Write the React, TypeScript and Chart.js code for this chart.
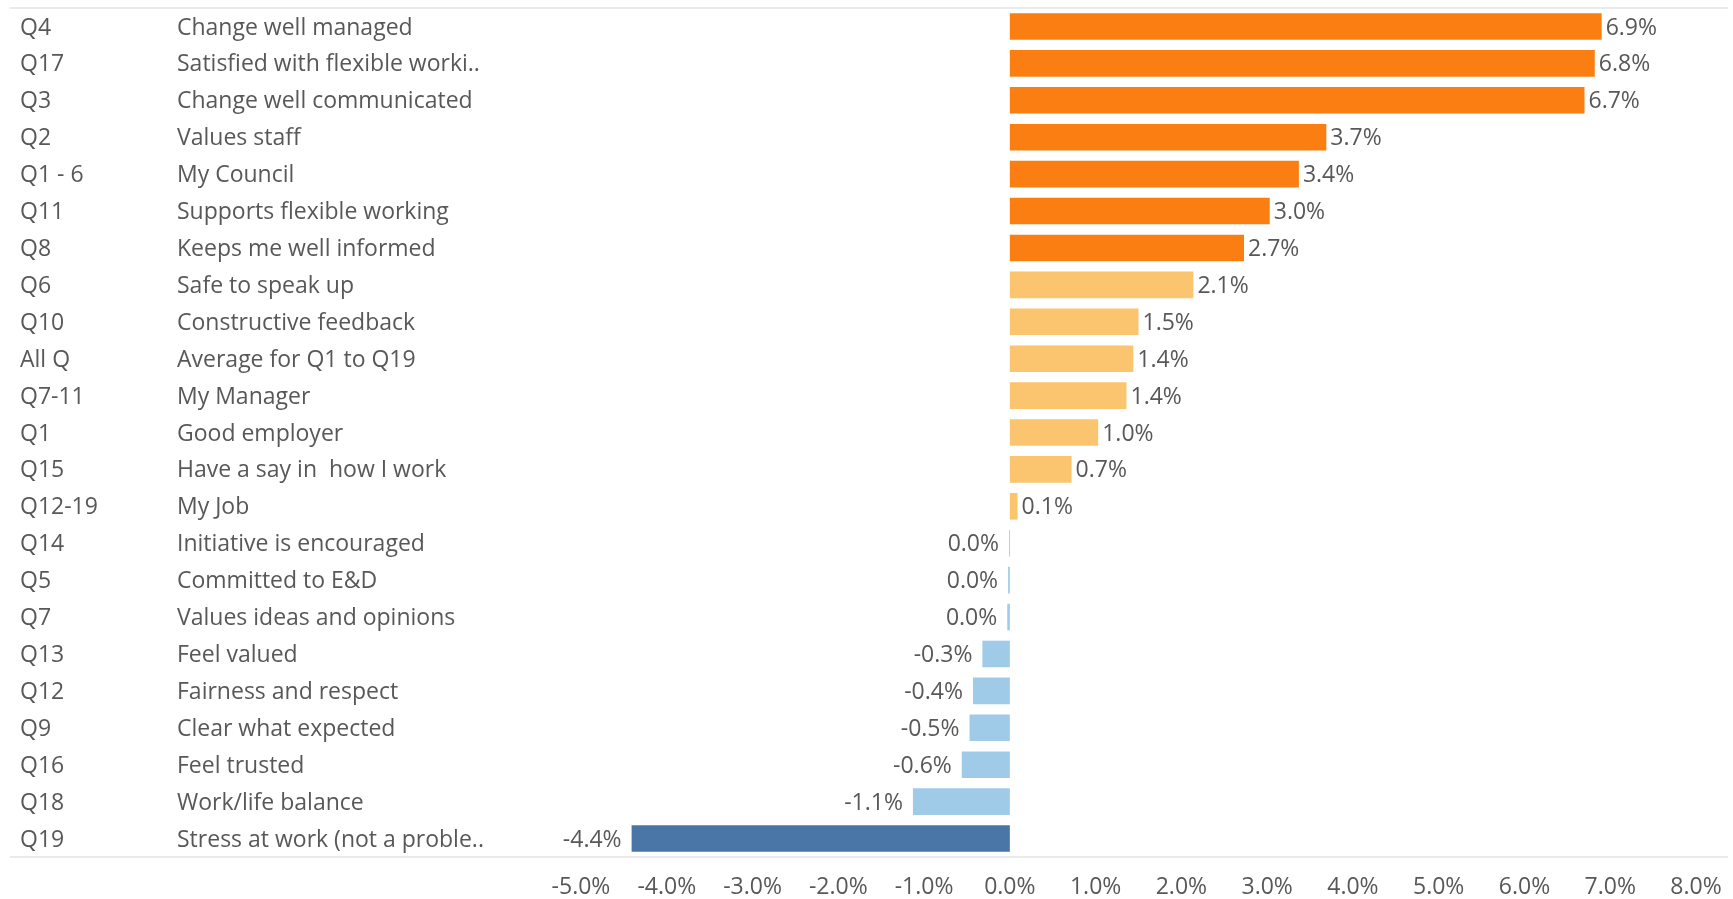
import React, { useEffect, useRef } from "react";
import { Chart, registerables } from "chart.js";

Chart.register(...registerables);

const codes = ["Q4", "Q17", "Q3", "Q2", "Q1 - 6", "Q11", "Q8", "Q6", "Q10", "All Q", "Q7-11", "Q1", "Q15", "Q12-19", "Q14", "Q5", "Q7", "Q13", "Q12", "Q9", "Q16", "Q18", "Q19"];
const descriptions = [
  "Change well managed",
  "Satisfied with flexible worki..",
  "Change well communicated",
  "Values staff",
  "My Council",
  "Supports flexible working",
  "Keeps me well informed",
  "Safe to speak up",
  "Constructive feedback",
  "Average for Q1 to Q19",
  "My Manager",
  "Good employer",
  "Have a say in  how I work",
  "My Job",
  "Initiative is encouraged",
  "Committed to E&D",
  "Values ideas and opinions",
  "Feel valued",
  "Fairness and respect",
  "Clear what expected",
  "Feel trusted",
  "Work/life balance",
  "Stress at work (not a proble..",
];
const values = [6.9, 6.82, 6.7, 3.69, 3.37, 3.03, 2.73, 2.14, 1.5, 1.44, 1.36, 1.03, 0.72, 0.09, -0.01, -0.02, -0.03, -0.32, -0.43, -0.47, -0.56, -1.13, -4.41];
const xTicks = [-5, -4, -3, -2, -1, 0, 1, 2, 3, 4, 5, 6, 7, 8];

const FONT = "'Open Sans', 'Noto Sans', sans-serif";
const TEXT = "#585858";

function colorFor(v: number) {
  if (v >= 2.5) return "#FA7E12";
  if (v >= 0) return "#FBC46F";
  if (v > -2) return "#A0CBE8";
  return "#4A76A7";
}

function fmt(v: number) {
  if (Math.abs(v) < 0.05) return "0.0%";
  return v.toFixed(1) + "%";
}

const labelPlugin = {
  id: "valueLabels",
  afterDatasetsDraw(chart: any) {
    const ctx = chart.ctx;
    const meta = chart.getDatasetMeta(0);
    const base = chart.scales.x.getPixelForValue(0);
    ctx.save();
    ctx.font = `23px ${FONT}`;
    ctx.fillStyle = TEXT;
    ctx.textBaseline = "middle";
    meta.data.forEach((bar: any, i: number) => {
      const v = values[i];
      const { x, y } = bar.getProps(["x", "y"], true);
      if (v > 0) {
        ctx.textAlign = "left";
        ctx.fillText(fmt(v), x + 4, y + 1.5);
      } else {
        ctx.textAlign = "right";
        ctx.fillText(fmt(v), Math.min(x, base) - 10, y + 1.5);
      }
    });
    ctx.restore();
  },
};

const linesPlugin = {
  id: "borderLines",
  beforeDraw(chart: any) {
    const { ctx, chartArea } = chart;
    ctx.save();
    ctx.strokeStyle = "#e3e3e3";
    ctx.lineWidth = 1.5;
    [chartArea.top, chartArea.bottom].forEach((yy: number) => {
      ctx.beginPath();
      ctx.moveTo(10, yy);
      ctx.lineTo(1728, yy);
      ctx.stroke();
    });
    ctx.restore();
  },
};

export default function App() {
  const ref = useRef<HTMLCanvasElement | null>(null);
  useEffect(() => {
    if (!ref.current) return;
    const chart = new Chart(ref.current, {
      type: "bar",
      data: {
        labels: descriptions,
        datasets: [
          {
            data: values,
            backgroundColor: values.map(colorFor),
            borderWidth: 0,
            barPercentage: 0.72,
            categoryPercentage: 1,
          },
        ],
      },
      options: {
        indexAxis: "y",
        responsive: false,
        animation: false,
        layout: { padding: { left: 20, right: 37, top: 8, bottom: 0 } },
        plugins: {
          legend: { display: false },
          tooltip: { enabled: false },
        },
        scales: {
          x: {
            type: "linear",
            min: -5,
            max: 8,
            afterBuildTicks: (scale: any) => {
              scale.ticks = xTicks.map((v) => ({ value: v }));
            },
            afterFit: (scale: any) => {
              scale.height = 42;
              scale.paddingLeft = 0;
              scale.paddingRight = 0;
            },
            grid: { display: false, drawTicks: false },
            border: { display: false },
            ticks: {
              padding: 17,
              color: TEXT,
              font: { family: FONT, size: 23 },
              callback: (v: any) => Number(v).toFixed(1) + "%",
              maxRotation: 0,
              autoSkip: false,
            },
          },
          y: {
            type: "category",
            position: "left",
            weight: 0,
            offset: true,
            afterFit: (scale: any) => {
              scale.width = 404;
            },
            grid: { display: false, drawTicks: false },
            border: { display: false },
            ticks: {
              crossAlign: "far",
              autoSkip: false,
              labelOffset: 1.5,
              color: TEXT,
              font: { family: FONT, size: 23, lineHeight: 0.5 },
              padding: 0,
            },
          },
          yCode: {
            type: "category",
            position: "left",
            weight: 1,
            offset: true,
            labels: codes,
            afterFit: (scale: any) => {
              scale.width = 157;
            },
            grid: { display: false, drawTicks: false },
            border: { display: false },
            ticks: {
              crossAlign: "far",
              autoSkip: false,
              labelOffset: 1.5,
              color: TEXT,
              font: { family: FONT, size: 23, lineHeight: 0.5 },
              padding: 0,
            },
          },
        } as any,
      },
      plugins: [linesPlugin, labelPlugin],
    });
    return () => chart.destroy();
  }, []);
  return (
    <div style={{ position: "absolute", left: 0, top: 0, width: 1733, height: 899, background: "#fff" }}>
      <canvas ref={ref} width={1733} height={899} style={{ display: "block" }} />
    </div>
  );
}
